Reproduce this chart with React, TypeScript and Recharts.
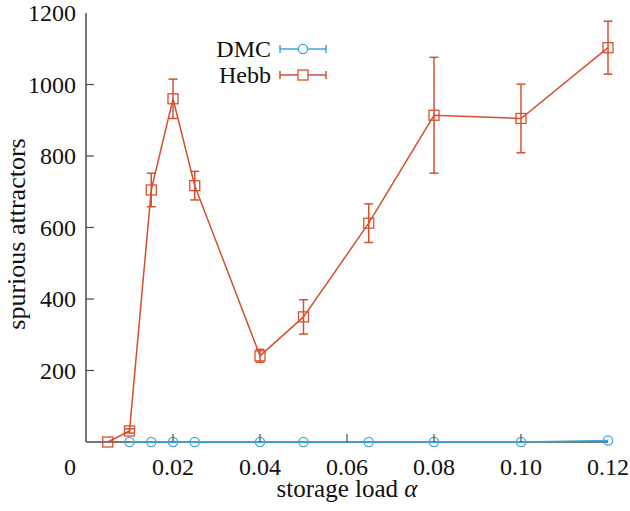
import React from 'react';
import { ScatterChart, Scatter, XAxis, YAxis, ErrorBar, Legend } from 'recharts';

// storage load values and counts
const hebbLoad = [0.005, 0.01, 0.015, 0.02, 0.025, 0.04, 0.05, 0.065, 0.08, 0.1, 0.12];
const hebbCount = [0, 31, 705, 960, 717, 241, 350, 612, 914, 905, 1103];
const hebbErr = [0, 6, 47, 55, 40, 18, 48, 54, 162, 96, 74];

const dmcLoad = [0.01, 0.015, 0.02, 0.025, 0.04, 0.05, 0.065, 0.08, 0.1, 0.12];
const dmcCount = [0, 0, 0, 0, 0, 0, 0, 0, 0, 4];

const xTicks = [0, 0.02, 0.04, 0.06, 0.08, 0.1, 0.12];
const xTickLabels = ['0', '0.02', '0.04', '0.06', '0.08', '0.10', '0.12'];
const yTicks = [200, 400, 600, 800, 1000, 1200];

const HEBB = '#d6502e';
const DMC = '#3aa6e2';
const AXIS = '#4a4a4a';
const FONT = 'Liberation Serif, DejaVu Serif, serif';
const FS = 24;
const LABEL_FS = 25;
const TICK_LEN = 8;

const hebbData = hebbLoad.map((load, i) => ({ load, count: hebbCount[i], err: hebbErr[i] }));
const dmcData = dmcLoad.map((load, i) => ({ load, count: dmcCount[i] }));

const BottomTick = (props: any) => {
  const { x, y, index } = props;
  const inner = index > 0 && index < xTicks.length - 1;
  const dx = index === 0 ? -16 : 0;
  return (
    <g>
      {inner && <line x1={x} x2={x} y1={y} y2={y - TICK_LEN} stroke={AXIS} strokeWidth={1.2} />}
      <text x={x + dx} y={y + 33} textAnchor="middle" style={{ fontFamily: FONT, fontSize: FS }} fill="#111">
        {xTickLabels[index]}
      </text>
    </g>
  );
};

const TopTick = (props: any) => {
  const { x, y, index } = props;
  if (index === 0 || index === xTicks.length - 1) return <g />;
  return <line x1={x} x2={x} y1={y} y2={y + TICK_LEN} stroke={AXIS} strokeWidth={1.2} />;
};

const LeftTick = (props: any) => {
  const { x, y, payload, index } = props;
  return (
    <g>
      {index < yTicks.length - 1 && (
        <line x1={x} x2={x + TICK_LEN} y1={y} y2={y} stroke={AXIS} strokeWidth={1.2} />
      )}
      <text x={x - 10} y={y} dy="0.35em" textAnchor="end" style={{ fontFamily: FONT, fontSize: FS }} fill="#111">
        {payload.value}
      </text>
    </g>
  );
};

const RightTick = (props: any) => {
  const { x, y, index } = props;
  if (index === yTicks.length - 1) return <g />;
  return <line x1={x} x2={x - TICK_LEN} y1={y} y2={y} stroke={AXIS} strokeWidth={1.2} />;
};

const SquareMark = (props: any) => (
  <rect x={props.cx - 5} y={props.cy - 5} width={10} height={10} fill="none" stroke={HEBB} strokeWidth={1.3} />
);

const CircleMark = (props: any) => (
  <circle cx={props.cx} cy={props.cy} r={4.6} fill="none" stroke={DMC} strokeWidth={1.3} />
);

const LegendBox = () => {
  const rows = [
    { name: 'DMC', color: DMC, y: 14 },
    { name: 'Hebb', color: HEBB, y: 40 },
  ];
  return (
    <svg width={160} height={56}>
      {rows.map((r) => (
        <g key={r.name}>
          <text x={71} y={r.y} dy="0.35em" textAnchor="end" style={{ fontFamily: FONT, fontSize: FS }} fill="#111">
            {r.name}
          </text>
          <line x1={80} x2={126} y1={r.y} y2={r.y} stroke={r.color} strokeWidth={1.5} />
          <line x1={80} x2={80} y1={r.y - 4} y2={r.y + 4} stroke={r.color} strokeWidth={1.5} />
          <line x1={126} x2={126} y1={r.y - 4} y2={r.y + 4} stroke={r.color} strokeWidth={1.5} />
          {r.name === 'DMC' ? (
            <circle cx={103} cy={r.y} r={4.6} fill="#fff" stroke={r.color} strokeWidth={1.3} />
          ) : (
            <rect x={98} y={r.y - 5} width={10} height={10} fill="#fff" stroke={r.color} strokeWidth={1.3} />
          )}
        </g>
      ))}
    </svg>
  );
};

const XLabel = (props: any) => {
  const { viewBox } = props;
  return (
    <text x={viewBox.x + viewBox.width / 2} y={viewBox.y + 55} textAnchor="middle" style={{ fontFamily: FONT, fontSize: LABEL_FS }} fill="#111">
      storage load <tspan fontStyle="italic">α</tspan>
    </text>
  );
};

const YLabel = () => (
  <text
    x={25}
    y={234}
    transform="rotate(-90, 25, 234)"
    textAnchor="middle"
    style={{ fontFamily: FONT, fontSize: 26 }}
    fill="#111"
  >
    spurious attractors
  </text>
);

export default function App() {
  return (
    <div style={{ position: 'absolute', left: 0, top: 0, background: '#fff' }}>
      <ScatterChart width={630} height={511} margin={{ top: 13, right: 22, bottom: 0, left: 0 }}>
        <XAxis
          type="number"
          dataKey="load"
          domain={[0, 0.12]}
          ticks={xTicks}
          interval={0}
          height={69}
          tickSize={0}
          tickMargin={0}
          tickLine={false}
          tick={<BottomTick />}
          axisLine={{ stroke: AXIS, strokeWidth: 1.5 }}
          label={<XLabel />}
        />
        <XAxis
          xAxisId="top"
          orientation="top"
          type="number"
          domain={[0, 0.12]}
          ticks={xTicks}
          interval={0}
          height={0}
          tickSize={0}
          tickMargin={0}
          tickLine={false}
          tick={<TopTick />}
          axisLine={{ stroke: AXIS, strokeWidth: 1.5 }}
        />
        <YAxis
          type="number"
          dataKey="count"
          domain={[0, 1200]}
          ticks={yTicks}
          interval={0}
          width={86}
          tickSize={0}
          tickMargin={0}
          tickLine={false}
          tick={<LeftTick />}
          axisLine={{ stroke: AXIS, strokeWidth: 1.5 }}
          label={<YLabel />}
        />
        <YAxis
          yAxisId="right"
          orientation="right"
          type="number"
          domain={[0, 1200]}
          ticks={yTicks}
          interval={0}
          width={0}
          tickSize={0}
          tickMargin={0}
          tickLine={false}
          tick={<RightTick />}
          axisLine={{ stroke: AXIS, strokeWidth: 1.5 }}
        />
        <Legend
          layout="horizontal"
          verticalAlign="middle"
          align="center"
          content={<LegendBox />}
          wrapperStyle={{ position: 'absolute', left: 200, top: 35, width: 160 }}
        />
        <Scatter
          name="Hebb"
          data={hebbData}
          line={{ stroke: HEBB, strokeWidth: 1.5 }}
          lineType="joint"
          shape={<SquareMark />}
          isAnimationActive={false}
        >
          <ErrorBar dataKey="err" direction="y" width={4.5} stroke={HEBB} strokeWidth={1.5} />
        </Scatter>
        <Scatter
          name="DMC"
          data={dmcData}
          line={{ stroke: DMC, strokeWidth: 1.5 }}
          lineType="joint"
          shape={<CircleMark />}
          isAnimationActive={false}
        />
      </ScatterChart>
    </div>
  );
}
